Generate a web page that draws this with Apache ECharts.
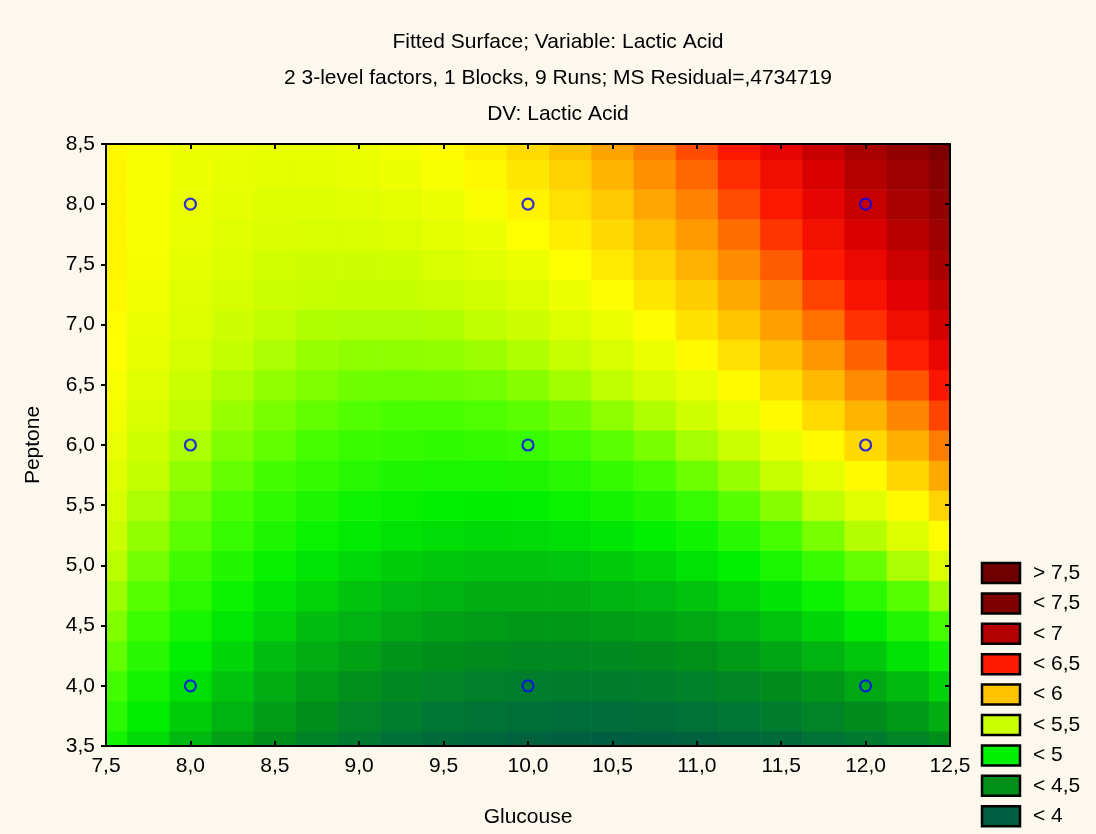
<!DOCTYPE html>
<html>
<head>
<meta charset="utf-8">
<title>Fitted Surface; Variable: Lactic Acid</title>
<script src="https://cdn.jsdelivr.net/npm/echarts@6/dist/echarts.min.js"></script>
<style>
  html, body { margin: 0; padding: 0; background: #fdf8ee; }
  #chart { width: 1096px; height: 834px; }
</style>
</head>
<body>
<div id="chart"></div>
<script>
// grid nodes of the fitted surface
const glucose = [7.5, 7.75, 8, 8.25, 8.5, 8.75, 9, 9.25, 9.5, 9.75, 10, 10.25, 10.5, 10.75, 11, 11.25, 11.5, 11.75, 12, 12.25, 12.5];
const peptone = [3.5, 3.75, 4, 4.25, 4.5, 4.75, 5, 5.25, 5.5, 5.75, 6, 6.25, 6.5, 6.75, 7, 7.25, 7.5, 7.75, 8, 8.25, 8.5];

// lactic acid, one row per peptone level (bottom to top), columns follow glucose
const lacticAcid = [
  [4.82, 4.65, 4.49, 4.35, 4.23, 4.11, 4.02, 3.93, 3.87, 3.82, 3.78, 3.76, 3.75, 3.76, 3.78, 3.82, 3.87, 3.94, 4.02, 4.12, 4.23],
  [4.90, 4.74, 4.59, 4.45, 4.33, 4.22, 4.13, 4.05, 3.99, 3.95, 3.92, 3.90, 3.90, 3.91, 3.94, 3.99, 4.04, 4.12, 4.21, 4.31, 4.43],
  [4.98, 4.82, 4.67, 4.54, 4.43, 4.33, 4.24, 4.17, 4.12, 4.08, 4.05, 4.04, 4.04, 4.06, 4.10, 4.15, 4.21, 4.29, 4.39, 4.50, 4.62],
  [5.05, 4.89, 4.75, 4.63, 4.52, 4.43, 4.35, 4.28, 4.23, 4.20, 4.18, 4.17, 4.19, 4.21, 4.25, 4.31, 4.38, 4.46, 4.56, 4.68, 4.81],
  [5.11, 4.96, 4.83, 4.71, 4.61, 4.52, 4.45, 4.39, 4.35, 4.32, 4.30, 4.30, 4.32, 4.35, 4.40, 4.46, 4.54, 4.63, 4.74, 4.86, 4.99],
  [5.17, 5.03, 4.90, 4.79, 4.69, 4.61, 4.54, 4.49, 4.45, 4.43, 4.42, 4.43, 4.45, 4.49, 4.54, 4.61, 4.69, 4.79, 4.90, 5.03, 5.17],
  [5.23, 5.09, 4.97, 4.87, 4.77, 4.70, 4.64, 4.59, 4.56, 4.54, 4.54, 4.55, 4.58, 4.62, 4.68, 4.75, 4.84, 4.95, 5.06, 5.20, 5.35],
  [5.28, 5.15, 5.04, 4.94, 4.85, 4.78, 4.72, 4.68, 4.66, 4.64, 4.65, 4.67, 4.70, 4.75, 4.81, 4.89, 4.99, 5.10, 5.22, 5.36, 5.51],
  [5.33, 5.20, 5.09, 5.00, 4.92, 4.85, 4.80, 4.77, 4.75, 4.74, 4.75, 4.78, 4.82, 4.87, 4.94, 5.03, 5.13, 5.24, 5.37, 5.52, 5.68],
  [5.37, 5.25, 5.15, 5.06, 4.98, 4.93, 4.88, 4.85, 4.84, 4.84, 4.85, 4.88, 4.93, 4.99, 5.07, 5.16, 5.26, 5.38, 5.52, 5.67, 5.84],
  [5.41, 5.30, 5.20, 5.11, 5.05, 4.99, 4.95, 4.93, 4.92, 4.93, 4.95, 4.99, 5.04, 5.10, 5.19, 5.28, 5.40, 5.52, 5.66, 5.82, 5.99],
  [5.44, 5.33, 5.24, 5.16, 5.10, 5.05, 5.02, 5.00, 5.00, 5.01, 5.04, 5.08, 5.14, 5.21, 5.30, 5.40, 5.52, 5.65, 5.80, 5.96, 6.14],
  [5.47, 5.37, 5.28, 5.21, 5.15, 5.11, 5.08, 5.07, 5.08, 5.09, 5.13, 5.18, 5.24, 5.32, 5.41, 5.52, 5.64, 5.78, 5.94, 6.10, 6.29],
  [5.49, 5.40, 5.32, 5.25, 5.20, 5.16, 5.14, 5.14, 5.15, 5.17, 5.21, 5.26, 5.33, 5.42, 5.52, 5.63, 5.76, 5.90, 6.06, 6.24, 6.43],
  [5.51, 5.42, 5.35, 5.29, 5.24, 5.21, 5.20, 5.20, 5.21, 5.24, 5.29, 5.35, 5.42, 5.51, 5.62, 5.74, 5.87, 6.02, 6.19, 6.37, 6.56],
  [5.53, 5.44, 5.37, 5.32, 5.28, 5.26, 5.25, 5.25, 5.27, 5.31, 5.36, 5.43, 5.51, 5.60, 5.71, 5.84, 5.98, 6.14, 6.31, 6.49, 6.69],
  [5.54, 5.46, 5.39, 5.35, 5.31, 5.29, 5.29, 5.30, 5.33, 5.37, 5.43, 5.50, 5.59, 5.69, 5.81, 5.94, 6.08, 6.25, 6.42, 6.61, 6.82],
  [5.54, 5.47, 5.41, 5.37, 5.34, 5.33, 5.33, 5.35, 5.38, 5.43, 5.49, 5.57, 5.66, 5.77, 5.89, 6.03, 6.18, 6.35, 6.53, 6.73, 6.94],
  [5.54, 5.47, 5.42, 5.39, 5.36, 5.36, 5.37, 5.39, 5.43, 5.48, 5.55, 5.63, 5.73, 5.85, 5.97, 6.12, 6.28, 6.45, 6.64, 6.84, 7.06],
  [5.54, 5.47, 5.43, 5.40, 5.38, 5.38, 5.40, 5.43, 5.47, 5.53, 5.60, 5.69, 5.80, 5.92, 6.05, 6.20, 6.37, 6.54, 6.74, 6.95, 7.17],
  [5.53, 5.47, 5.43, 5.41, 5.40, 5.40, 5.42, 5.46, 5.51, 5.57, 5.65, 5.75, 5.86, 5.98, 6.12, 6.28, 6.45, 6.63, 6.84, 7.05, 7.28]
];

// the 9 design runs
const runGlucose = [8, 8, 8, 10, 10, 10, 12, 12, 12];
const runPeptone = [4, 6, 8, 4, 6, 8, 4, 6, 8];

const xTickLabels = ['7,5', '8,0', '8,5', '9,0', '9,5', '10,0', '10,5', '11,0', '11,5', '12,0', '12,5'];
const yTickLabels = ['3,5', '4,0', '4,5', '5,0', '5,5', '6,0', '6,5', '7,0', '7,5', '8,0', '8,5'];

const legendLabels = ['> 7,5', '< 7,5', '< 7', '< 6,5', '< 6', '< 5,5', '< 5', '< 4,5', '< 4'];
const legendColors = ['#700000', '#800000', '#b30000', '#ff1a00', '#ffc300', '#ccff00', '#00f000', '#009019', '#005f40'];

// colour ramp 3.75 .. 7.75 in steps of 0.25
const rampColors = ['#005f40', '#007832', '#009019', '#00ba10', '#00f000', '#48ff00', '#c4ff00', '#ffff00',
  '#ffc300', '#ff7a00', '#ff1a00', '#e00000', '#b30000', '#980000', '#800000', '#760000', '#700000'];

const FONT = 'Liberation Sans, Arial, sans-serif';

var surface = [];
peptone.forEach(function (y, j) {
  glucose.forEach(function (x, k) {
    surface.push([x, y, lacticAcid[j][k]]);
  });
});
var runs = runGlucose.map(function (g, i) { return [g, runPeptone[i]]; });

var halfX = (glucose[1] - glucose[0]) / 2;
var halfY = (peptone[1] - peptone[0]) / 2;

function axisBase(pos, labels, tickInside) {
  var horiz = pos === 'bottom' || pos === 'top';
  return {
    type: 'value', position: pos,
    min: horiz ? 7.5 : 3.5,
    max: horiz ? 12.5 : 8.5,
    interval: 0.5,
    z: 10,
    axisLine: { show: true, onZero: false, lineStyle: { color: '#000', width: 2 } },
    axisTick: { show: true, inside: tickInside, length: 5, lineStyle: { color: '#000', width: 2 } },
    splitLine: { show: false },
    axisLabel: labels ? {
      show: true, color: '#000', fontSize: 21, fontFamily: FONT,
      margin: horiz ? 10 : 11,
      formatter: function (v) {
        var start = horiz ? 7.5 : 3.5;
        return labels[Math.round((v - start) / 0.5)];
      }
    } : { show: false }
  };
}

var xBottom = axisBase('bottom', xTickLabels, true);
xBottom.name = 'Glucouse';
xBottom.nameLocation = 'middle';
xBottom.nameGap = 61;
xBottom.nameTextStyle = { color: '#000', fontSize: 21, fontFamily: FONT };

var yLeft = axisBase('left', yTickLabels, false);
yLeft.name = 'Peptone';
yLeft.nameLocation = 'middle';
yLeft.nameGap = 62;
yLeft.nameTextStyle = { color: '#000', fontSize: 21, fontFamily: FONT };

var legendGraphic = [];
legendLabels.forEach(function (lab, i) {
  var top = 563 + i * 30.4;
  legendGraphic.push({
    type: 'rect', z: 20,
    shape: { x: 982, y: top, width: 38, height: 20 },
    style: { fill: legendColors[i], stroke: '#000', lineWidth: 2.5 }
  });
  legendGraphic.push({
    type: 'text', z: 20, x: 1033, y: top + 10,
    style: { text: lab, fill: '#000', fontSize: 21, fontFamily: FONT, align: 'left', verticalAlign: 'middle' }
  });
});

var chart = echarts.init(document.getElementById('chart'));
chart.setOption({
  backgroundColor: '#fdf8ee',
  animation: false,
  title: {
    text: 'Fitted Surface; Variable: Lactic Acid\n2 3-level factors, 1 Blocks, 9 Runs; MS Residual=,4734719\nDV: Lactic Acid',
    left: 558, top: 24, textAlign: 'center', padding: 0,
    textStyle: { color: '#000', fontSize: 21, fontWeight: 'normal', fontFamily: FONT, lineHeight: 36 }
  },
  grid: { left: 106, top: 144, width: 844, height: 602 },
  xAxis: [xBottom, axisBase('top', null, true)],
  yAxis: [yLeft, axisBase('right', null, true)],
  visualMap: {
    type: 'continuous', show: false, seriesIndex: 0, dimension: 2,
    min: 3.75, max: 7.75,
    inRange: { color: rampColors }
  },
  graphic: legendGraphic,
  series: [
    {
      type: 'custom',
      clip: true,
      z: 1,
      data: surface,
      encode: { x: 0, y: 1 },
      renderItem: function (params, api) {
        var x = api.value(0), y = api.value(1);
        var p0 = api.coord([x - halfX, y + halfY]);
        var p1 = api.coord([x + halfX, y - halfY]);
        return {
          type: 'rect',
          shape: { x: p0[0], y: p0[1], width: p1[0] - p0[0] + 0.6, height: p1[1] - p0[1] + 0.6 },
          style: { fill: api.visual('color') }
        };
      }
    },
    {
      type: 'scatter',
      z: 5,
      data: runs,
      symbol: 'circle',
      symbolSize: 11,
      itemStyle: { color: 'rgba(0,0,0,0)', borderColor: '#0000ff', borderWidth: 2.2 }
    }
  ]
});
</script>
</body>
</html>
